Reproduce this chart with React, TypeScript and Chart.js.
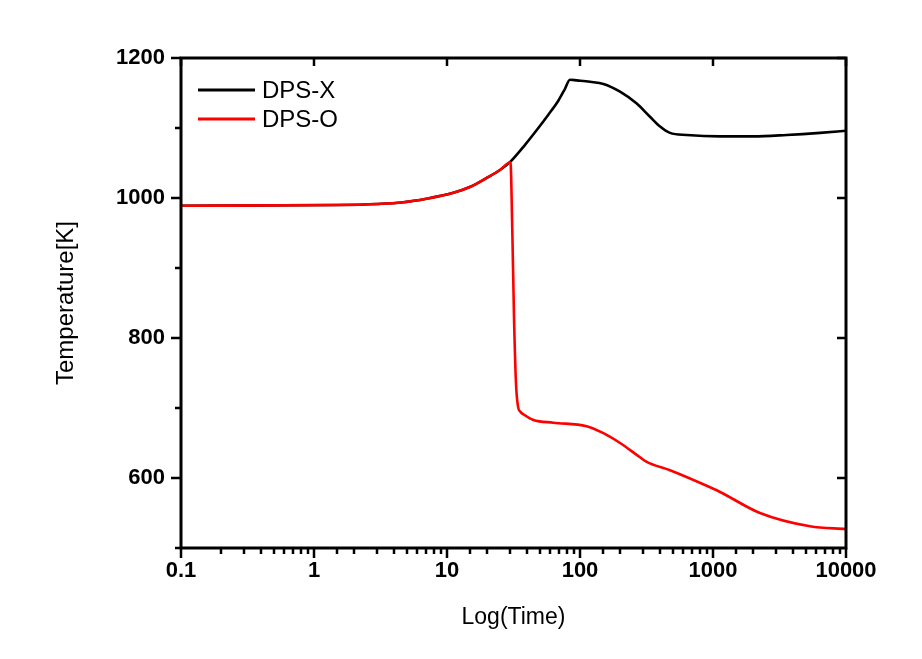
import React, { useEffect, useRef } from "react";
import { Chart, registerables } from "chart.js";

Chart.register(...registerables);

// ---- Data ----
const redTime = [0.1, 1.5, 3, 4.7, 7, 11, 15, 20, 25, 30, 31, 31.9, 33, 34.2, 35.5, 37.5, 44.6, 63, 112, 150, 200, 267, 317, 475, 845, 1130, 2255, 5360, 10000];
const redTemp = [989, 990, 991.5, 994, 999, 1007, 1016, 1029, 1040, 1051, 950, 830, 736, 702, 695, 691, 683, 679, 674, 664, 650, 633, 623, 611, 591, 580, 550, 531, 527];

const blackTime = [0.1, 1.5, 3, 4.7, 7, 11, 15, 20, 25, 30, 38.6, 48.6, 57.8, 68.7, 77.1, 84, 95, 119, 150, 200, 267, 336, 400, 475, 634, 1130, 2010, 3580, 6380, 10000];
const blackTemp = [989, 990, 991.5, 994, 999, 1007, 1016, 1029, 1040, 1052, 1076, 1100, 1119, 1139, 1156, 1169, 1168, 1166, 1163, 1152, 1135, 1116, 1102, 1093, 1090, 1088, 1088, 1090, 1093, 1096];

const seriesNames = ["DPS-X", "DPS-O"];
const seriesColors = ["#000000", "#ff0000"];

const xMin = 0.1;
const xMax = 10000;
const yMin = 500;
const yMax = 1200;
const yStep = 100;

const FONT = "'Liberation Sans', Arial, sans-serif";

const isDecade = (v: number) => {
  const l = Math.log10(v);
  return Math.abs(l - Math.round(l)) < 1e-9;
};

const framePlugin = {
  id: "frameTicks",
  afterDraw(chart: any) {
    const { ctx, chartArea } = chart;
    const { left, right, top, bottom } = chartArea;
    const xs = chart.scales.x;
    const ys = chart.scales.y;
    ctx.save();
    ctx.strokeStyle = "#000";
    ctx.lineCap = "butt";
    // ticks
    ctx.lineWidth = 2.5;
    ctx.beginPath();
    for (const t of xs.ticks) {
      const v = t.value;
      if (v < xMin - 1e-9 || v > xMax + 1e-9) continue;
      const px = Math.round(xs.getPixelForValue(v));
      const major = isDecade(v);
      ctx.moveTo(px, bottom);
      ctx.lineTo(px, bottom + (major ? 10 : 6));
      if (major) {
        ctx.moveTo(px, top);
        ctx.lineTo(px, top + 8);
      }
    }
    for (const t of ys.ticks) {
      const v = t.value;
      const py = Math.round(ys.getPixelForValue(v));
      const major = v % 200 === 0;
      ctx.moveTo(left, py);
      ctx.lineTo(left - (major ? 10 : 6), py);
      if (major) {
        ctx.moveTo(right, py);
        ctx.lineTo(right - 9, py);
      }
    }
    ctx.stroke();
    // frame
    ctx.lineWidth = 3;
    ctx.strokeRect(left, top, right - left, bottom - top);

    // legend
    const lx0 = left + 17;
    const lx1 = left + 74;
    const rows = [top + 32, top + 61];
    ctx.font = `24px ${FONT}`;
    ctx.textBaseline = "middle";
    ctx.textAlign = "left";
    ctx.fillStyle = "#000";
    seriesNames.forEach((name, i) => {
      ctx.strokeStyle = seriesColors[i];
      ctx.lineWidth = 3;
      ctx.beginPath();
      ctx.moveTo(lx0, rows[i]);
      ctx.lineTo(lx1, rows[i]);
      ctx.stroke();
      ctx.fillText(name, lx1 + 7, rows[i] + 1);
    });
    ctx.restore();
  },
};

export default function App() {
  const ref = useRef<HTMLCanvasElement | null>(null);

  useEffect(() => {
    if (!ref.current) return;
    const chart = new Chart(ref.current, {
      type: "line",
      data: {
        datasets: [
          {
            label: seriesNames[1],
            data: redTime.map((t, i) => ({ x: t, y: redTemp[i] })),
            borderColor: seriesColors[1],
            borderWidth: 2.6,
            pointRadius: 0,
            cubicInterpolationMode: "monotone",
            fill: false,
          },
          {
            label: seriesNames[0],
            data: blackTime.map((t, i) => ({ x: t, y: blackTemp[i] })),
            borderColor: seriesColors[0],
            borderWidth: 2.6,
            pointRadius: 0,
            cubicInterpolationMode: "monotone",
            fill: false,
          },
        ],
      },
      options: {
        animation: false,
        responsive: false,
        layout: { padding: { top: 58, right: 76, bottom: 0, left: 0 } },
        plugins: {
          legend: { display: false },
          tooltip: { enabled: false },
        },
        scales: {
          x: {
            type: "logarithmic",
            min: xMin,
            max: xMax,
            grid: { display: false, drawTicks: false },
            border: { display: false },
            ticks: {
              autoSkip: false,
              maxRotation: 0,
              padding: 10,
              color: "#000",
              font: { family: FONT, size: 22, weight: "bold" },
              callback: (v: any) => (isDecade(Number(v)) ? String(Number(v)) : ""),
            },
            title: {
              display: true,
              text: "Log(Time)",
              color: "#000",
              font: { family: FONT, size: 23 },
              padding: 28,
            },
            afterFit: (s: any) => {
              s.height = 111;
            },
          },
          y: {
            type: "linear",
            min: yMin,
            max: yMax,
            grid: { display: false, drawTicks: false },
            border: { display: false },
            ticks: {
              stepSize: yStep,
              padding: 16,
              color: "#000",
              font: { family: FONT, size: 22, weight: "bold" },
              callback: (v: any) => (Number(v) % 200 === 0 ? String(v) : ""),
            },
            title: {
              display: true,
              text: "Temperature[K]",
              color: "#000",
              font: { family: FONT, size: 24 },
              padding: 52,
            },
            afterFit: (s: any) => {
              s.width = 181;
            },
          },
        },
      },
      plugins: [framePlugin],
    } as any);
    return () => chart.destroy();
  }, []);

  return (
    <div style={{ position: "absolute", left: 0, top: 0, width: 922, height: 659, background: "#fff" }}>
      <canvas ref={ref} width={922} height={659} />
    </div>
  );
}
